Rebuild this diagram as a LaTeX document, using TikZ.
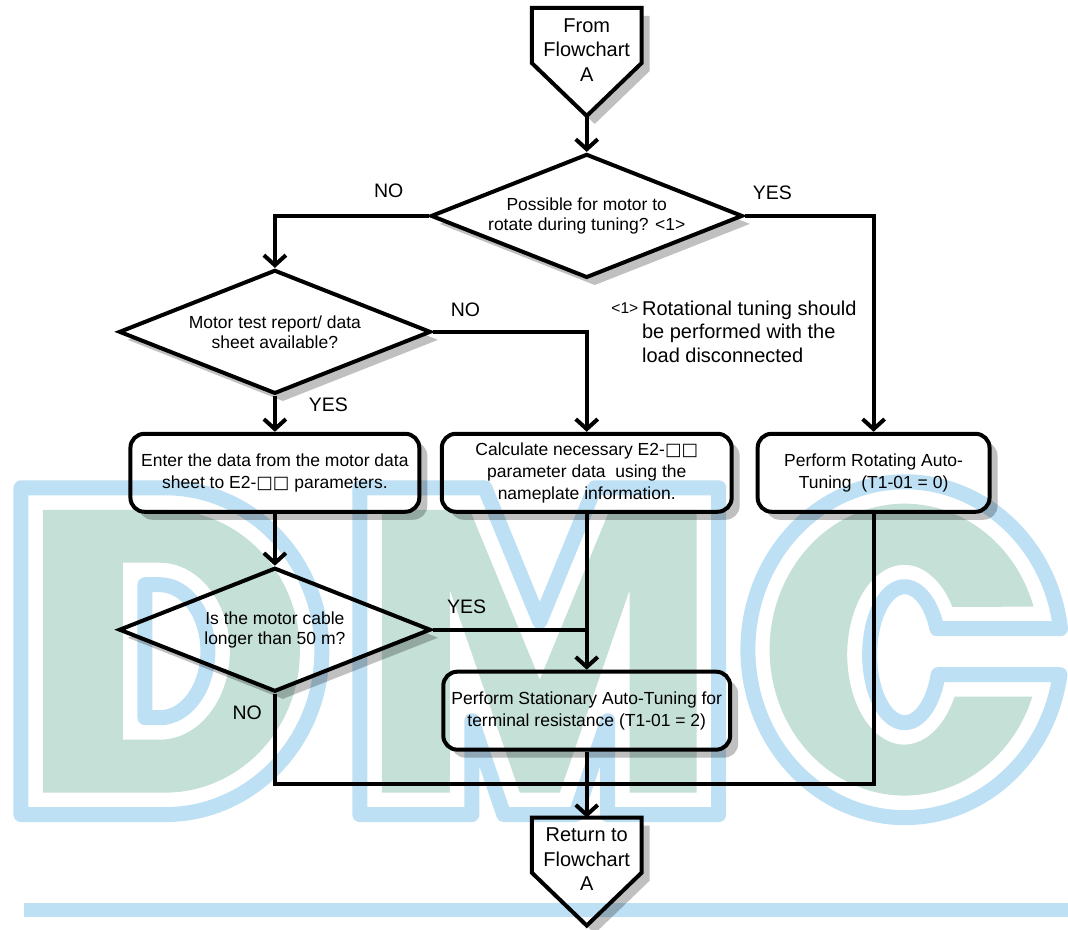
\documentclass[tikz,border=0pt]{standalone}
\usepackage{fontspec}
\setmainfont{Liberation Sans}
\newfontfamily\symfont{DejaVu Sans}
\usetikzlibrary{shapes.geometric,shadows,arrows.meta,positioning}

\definecolor{wmgreen}{RGB}{196,224,215}
\definecolor{wmblue}{RGB}{190,224,245}
\definecolor{shadowgray}{RGB}{192,192,192}

% watermark letters (pixel grid, y downwards)
\def\wmletterD{(43,510) -- (165,510) arc[start angle=-90, end angle=90, x radius=135, y radius=141.5] -- (43,793) -- cycle
  (123,563) -- (160,563) arc[start angle=-90, end angle=90, x radius=70, y radius=88.5] -- (123,740) -- cycle}
\def\wmletterM{(382,793) -- (382,510) -- (470,510) -- (540,680) -- (610,510) -- (697,510) -- (697,793) -- (630,793)
  -- (630,590) -- (560,793) -- (520,793) -- (450,590) -- (450,793) -- cycle}
\def\wmletterC{(1034,607) arc[start angle=-17.1, end angle=-341.2, x radius=135, y radius=146] -- (955,697)
  arc[start angle=27.8, end angle=327.8, x radius=57, y radius=90] -- cycle}
% their outlines, 22px away
\def\wmrimD{(21,488) -- (165,488) arc[start angle=-90, end angle=90, x radius=157, y radius=163.5] -- (21,815) -- cycle
  (145,585) -- (160,585) arc[start angle=-90, end angle=90, x radius=48, y radius=66.5] -- (145,718) -- cycle}
\def\wmrimM{(360,815) -- (360,488) -- (485,488) -- (540,622) -- (595,488) -- (719,488) -- (719,815) -- (608,815)
  -- (608,721) -- (576,815) -- (504,815) -- (472,721) -- (472,815) -- cycle}
\def\wmrimC{(1061,629) arc[start angle=-7.18, end angle=-351.44, x radius=157, y radius=168] -- (938.5,675)
  arc[start angle=17.1, end angle=337.5, x radius=35, y radius=68] -- cycle}

\tikzset{
  chartshadow/.style={drop shadow={shadow xshift=4pt, shadow yshift=-4pt, fill=shadowgray, opacity=1}}
}

\begin{document}
\begin{tikzpicture}[
        x=0.5pt, y=-0.5pt,
        every node/.style={font=\fontsize{8.75}{11}\selectfont},
        decision/.style={diamond, draw=black, line width=2pt, fill=white, aspect=2.5, inner sep=0pt, minimum width=156pt, minimum height=62pt, align=center, chartshadow, font=\fontsize{8.75}{10}\selectfont},
        procbox/.style={rectangle, rounded corners=7pt, draw=black, line width=2pt, fill=white, minimum height=39pt, inner sep=0pt, align=center, chartshadow},
        offpage/.style={draw=black, line width=2pt, fill=white, line join=miter, chartshadow},
        pagetext/.style={align=center, inner sep=0pt, font=\fontsize{10}{12.25}\selectfont},
        arrow/.style={-{Straight Barb[length=5pt, width=11pt]}, line width=2pt},
        flowline/.style={line width=2pt},
        lbl/.style={font=\fontsize{9.75}{11}\selectfont, inner sep=0pt},
        fnote/.style={font=\fontsize{10}{11.75}\selectfont, align=left, inner sep=0pt},
        fnmark/.style={font=\fontsize{7.8}{9}\selectfont, inner sep=0pt}
        ]

        \path[fill=white] (0,0) rectangle (1068,930);

        % Off-page connectors
        \draw[offpage] (532,8) -- (642,8) -- (642,63) -- (587,116) -- (532,63) -- cycle;
        \node[pagetext] (start) at (587,50) {From\\Flowchart\\A};
        \coordinate (starttip) at (587,116);
        \draw[offpage] (532,818) -- (642,818) -- (642,873) -- (587,926) -- (532,873) -- cycle;
        \node[pagetext] (return) at (587,860) {Return to\\Flowchart\\A};
        \coordinate (returntop) at (587,818);

        % Flowchart nodes
        \node[decision] (possible) at (587,216) {Possible for motor to\\rotate during tuning? <1>};
        \node[decision] (report) at (275,332) {Motor test report/ data\\sheet available?};
        \node[procbox, minimum width=144.5pt] (enterdata) at (275,473) {Enter the data from the motor data\\sheet to E2-{\symfont □□} parameters.};
        \node[procbox, minimum width=145pt] (calcdata) at (587,473) {Calculate necessary E2-{\symfont □□}\\parameter data\ \ using the\\nameplate information.};
        \node[procbox, minimum width=116pt] (rotating) at (874,473) {Perform Rotating Auto-\\Tuning\ \ (T1-01 = 0)};
        \node[decision] (cable) at (275,630) {Is the motor cable\\longer than 50 m?};
        \node[procbox, minimum width=143.5pt] (stationary) at (587,711) {Perform Stationary Auto-Tuning for\\terminal resistance (T1-01 = 2)};
        \coordinate (merge) at (587,784);

        % Footnote
        \node[fnote, anchor=west] (rotnote) at (642,332) {Rotational tuning should\\be performed with the\\load disconnected};
        \node[fnmark, anchor=east] (rotref) at (639,308) {<1>};

        % Connectors
        \draw[arrow] (starttip) -- (possible.north);
        \draw[arrow] (possible.west) -| node[lbl, above=8pt, pos=0.13] {NO} (report.north);
        \draw[arrow] (possible.east) -| node[lbl, above=7pt, pos=0.107] {YES} (rotating.north);
        \draw[arrow] (report.east) -| node[lbl, above=6.5pt, pos=0.106] {NO} (calcdata.north);
        \draw[arrow] (report.south) -- node[lbl, right=16pt, pos=0.26] {YES} (enterdata.north);
        \draw[arrow] (enterdata.south) -- (cable.north);
        \draw[arrow] (calcdata.south) -- (stationary.north);
        \draw[flowline] (cable.east) -- node[lbl, above=7pt, pos=0.22] {YES} (cable.east -| calcdata.south);
        \draw[flowline] (cable.south) -- node[lbl, left=5.5pt, pos=0.21] {NO} (cable.south |- merge) -| (rotating.south);
        \draw[arrow] (stationary.south) -- (returntop);

        % DMC watermark, multiplied over the chart
        \begin{scope}[blend mode=multiply]
            \fill[wmgreen, even odd rule] \wmletterD \wmletterM \wmletterC;
            \draw[wmblue, line width=7.5pt, line join=round] \wmrimD \wmrimM \wmrimC;
            \fill[wmblue] (24,903) rectangle (1068,917);
        \end{scope}

    \end{tikzpicture}
\end{document}
